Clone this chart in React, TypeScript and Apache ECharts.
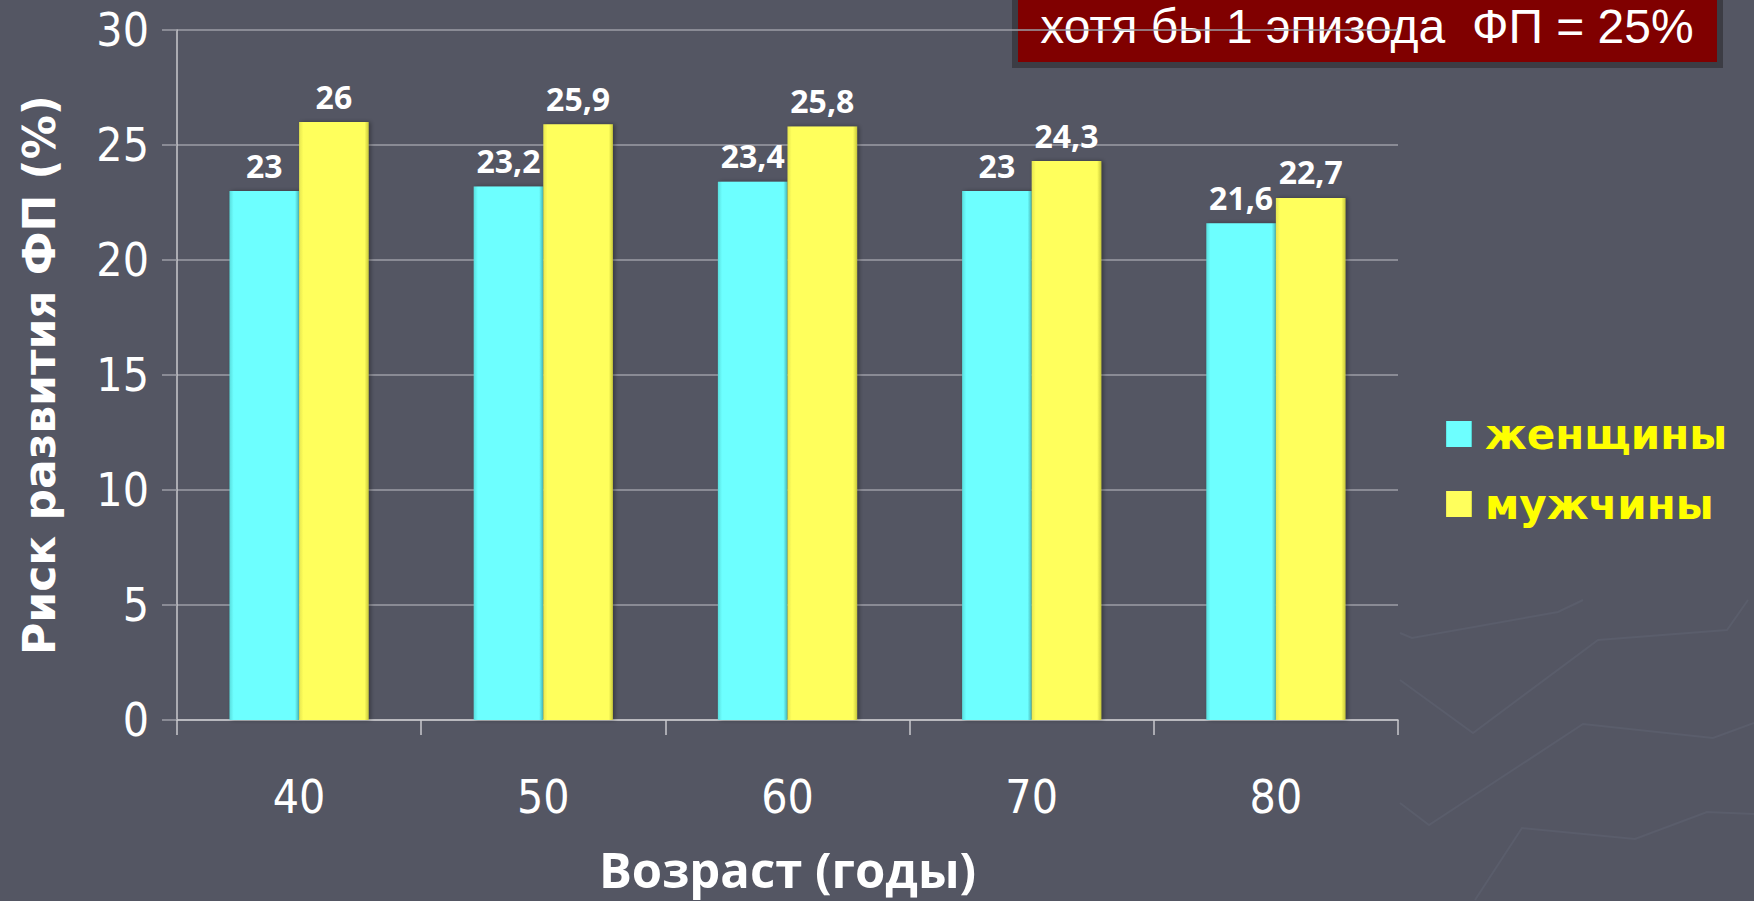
import React, { useEffect, useRef } from "react";
import * as echarts from "echarts";

const ages = ["40", "50", "60", "70", "80"];
const women = [23, 23.2, 23.4, 23, 21.6];
const men = [26, 25.9, 25.8, 24.3, 22.7];
const seriesNames = ["женщины", "мужчины"];
const yTicks = { min: 0, max: 30, interval: 5 };
const titleNote = "хотя бы 1 эпизода  ФП = 25%";
const xTitle = "Возраст (годы)";
const yTitle = "Риск развития ФП (%)";

// faint decorative background strokes (texture of the slide)
const decoLines: number[][][] = [
  [[1400, 680], [1473, 733], [1598, 640], [1727, 630], [1748, 600]],
  [[1400, 803], [1429, 825], [1583, 724], [1713, 738], [1754, 723]],
  [[1475, 900], [1522, 828], [1635, 839], [1707, 812], [1754, 814]],
  [[1400, 633], [1412, 638], [1558, 612], [1583, 600]],
];

const tickFont = "'DejaVu Sans Condensed', 'Roboto', sans-serif";

const barGrad = (edge: string, mid: string, dark: string) =>
  new echarts.graphic.LinearGradient(0, 0, 1, 0, [
    { offset: 0, color: edge },
    { offset: 0.06, color: mid },
    { offset: 0.94, color: mid },
    { offset: 1, color: dark },
  ]);

export default function App() {
  const ref = useRef<HTMLDivElement>(null);
  useEffect(() => {
    if (!ref.current) return;
    const chart = echarts.init(ref.current, null, { renderer: "svg" });
    const labelStyle = {
      show: true,
      position: "top" as const,
      distance: 10,
      color: "#ffffff",
      fontFamily: "Open Sans",
      fontWeight: "bold" as const,
      fontSize: 32,
      formatter: (p: any) => String(p.value).replace(".", ","),
    };
    chart.setOption({
      animation: false,
      backgroundColor: "#545663",
      grid: { left: 177, right: 356, top: 30, bottom: 181 },
      legend: {
        orient: "vertical",
        left: 1441,
        top: 404,
        itemWidth: 26,
        itemHeight: 26,
        itemGap: 20,
        icon: "rect",
        data: seriesNames,
        textStyle: {
          color: "#ffff00",
          fontFamily: "DejaVu Sans",
          fontWeight: "bold",
          fontSize: 42,
          lineHeight: 50,
          padding: [0, 0, 0, 8],
        },
      },
      xAxis: {
        type: "category",
        data: ages,
        name: xTitle,
        nameLocation: "middle",
        nameGap: 124,
        nameTextStyle: {
          color: "#ffffff",
          fontFamily: "Open Sans",
          fontWeight: "bold",
          fontSize: 49,
        },
        axisLine: { lineStyle: { color: "#c8c8cc", width: 1.5 } },
        axisTick: { show: true, length: 15, lineStyle: { color: "#c8c8cc", width: 1.5 } },
        axisLabel: {
          color: "#ffffff",
          fontFamily: tickFont,
          fontSize: 46,
          margin: 54,
        },
      },
      yAxis: {
        type: "value",
        min: yTicks.min,
        max: yTicks.max,
        interval: yTicks.interval,
        name: yTitle,
        nameLocation: "middle",
        nameRotate: 90,
        nameGap: 116,
        nameTextStyle: {
          color: "#ffffff",
          fontFamily: "DejaVu Sans",
          fontWeight: "bold",
          fontSize: 44,
        },
        axisLine: { show: true, lineStyle: { color: "#c8c8cc", width: 1.5 } },
        axisTick: { show: true, length: 15, lineStyle: { color: "#9c9ea6", width: 1.5 } },
        splitLine: { lineStyle: { color: "#9c9ea6", width: 1.5 } },
        axisLabel: {
          color: "#ffffff",
          fontFamily: tickFont,
          fontSize: 46,
          margin: 28,
        },
      },
      series: [
        {
          name: seriesNames[0],
          type: "bar",
          data: women,
          barGap: "0%",
          barCategoryGap: "43%",
          itemStyle: {
            color: barGrad("#58dede", "#6dffff", "#48b8b8"),
            shadowColor: "rgba(0,0,0,0.35)",
            shadowBlur: 4,
            shadowOffsetX: 2,
          },
          label: labelStyle,
        },
        {
          name: seriesNames[1],
          type: "bar",
          data: men,
          itemStyle: {
            color: barGrad("#e6e650", "#ffff5c", "#c8c83a"),
            shadowColor: "rgba(0,0,0,0.35)",
            shadowBlur: 4,
            shadowOffsetX: 2,
          },
          label: labelStyle,
        },
      ],
      graphic: [
        ...decoLines.map((pts) => ({
          type: "polyline",
          z: -10,
          silent: true,
          shape: { points: pts },
          style: { stroke: "#5a5d6b", lineWidth: 2, fill: "none" },
        })),
        {
          type: "group",
          left: 1012,
          top: -20,
          children: [
            {
              type: "rect",
              shape: { x: 0, y: 0, width: 705, height: 82 },
              style: { fill: "#800000", stroke: "#3c3c44", lineWidth: 6 },
            },
            {
              type: "text",
              x: 352,
              y: 43,
              style: {
                text: titleNote,
                fill: "#ffffff",
                fontFamily: "Liberation Sans",
                fontSize: 48,
                align: "center",
                verticalAlign: "middle",
              },
            },
          ],
        },
      ],
    });
    return () => chart.dispose();
  }, []);
  return (
    <div
      ref={ref}
      style={{ position: "fixed", left: 0, top: 0, width: 1754, height: 901 }}
    />
  );
}
